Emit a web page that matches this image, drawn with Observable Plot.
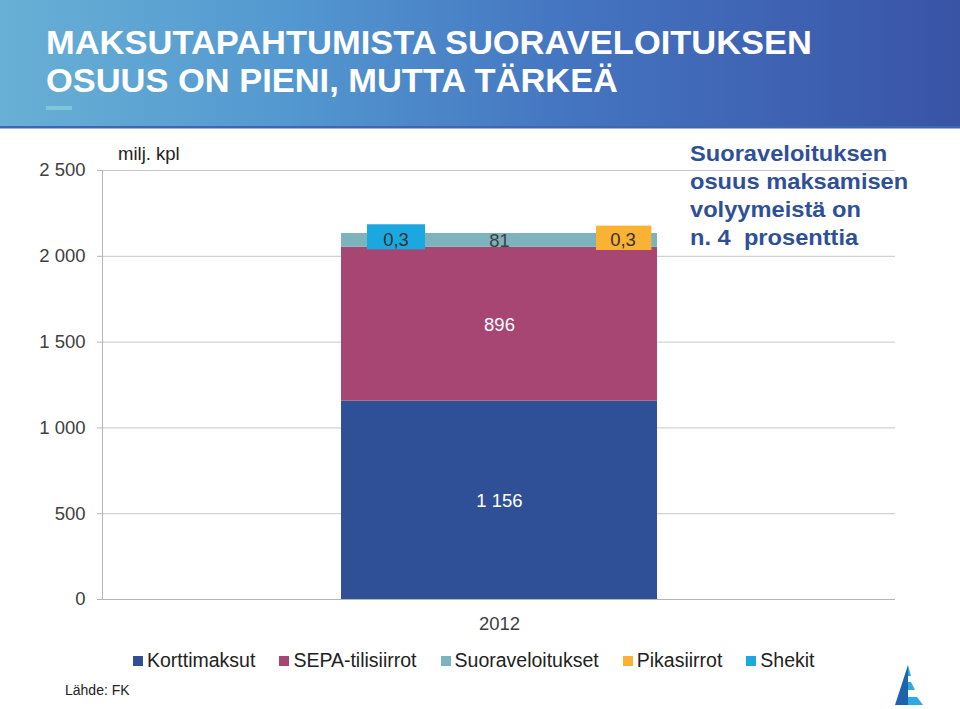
<!DOCTYPE html>
<html>
<head>
<meta charset="utf-8">
<script src="https://cdn.jsdelivr.net/npm/d3@7"></script>
<script src="https://cdn.jsdelivr.net/npm/@observablehq/plot@0.6"></script>
<style>
  body { margin: 0; background: #fff; }
  #page { position: relative; width: 960px; height: 709px; overflow: hidden; background: #fff;
          font-family: "Liberation Sans", Arial, sans-serif; }
  #header { position: absolute; left: 0; top: 0; }
  #chart { position: absolute; left: 0; top: 128px; }
  #unit { position: absolute; left: 118px; top: 143px; font-size: 18.5px; color: #222; white-space: pre; }
  #note { position: absolute; left: 690px; top: 140.2px; font-size: 21.5px; font-weight: bold; line-height: 28px;
          color: #2f4f96; white-space: pre; transform: scaleX(1.1); transform-origin: 0 0; }
  #legend { position: absolute; left: 133px; top: 649px; display: flex; align-items: center; gap: 24px;
            font-size: 19.5px; color: #222; white-space: nowrap; }
  #legend .item { display: flex; align-items: center; }
  #legend .sw { width: 10px; height: 10px; margin-right: 4px; }
  #source { position: absolute; left: 65px; top: 682px; font-size: 14px; color: #222; }
  #logo { position: absolute; left: 890px; top: 662px; }
</style>
</head>
<body>
<div id="page">
  <svg id="header" width="960" height="129">
    <defs>
      <linearGradient id="hg" x1="0" y1="0" x2="1" y2="0">
        <stop offset="0" stop-color="#68b0d5"/>
        <stop offset="0.3" stop-color="#5398d0"/>
        <stop offset="0.6" stop-color="#4474c0"/>
        <stop offset="1" stop-color="#3953a5"/>
      </linearGradient>
    </defs>
    <rect x="0" y="0" width="960" height="126" fill="url(#hg)"/>
    <rect x="0" y="126" width="960" height="2.5" fill="#3f67b0"/>
    <text x="46" y="54.3" fill="#fff" font-family="Liberation Sans, Arial, sans-serif" font-weight="bold"
          font-size="34" textLength="766" lengthAdjust="spacingAndGlyphs">MAKSUTAPAHTUMISTA SUORAVELOITUKSEN</text>
    <text x="46" y="92.3" fill="#fff" font-family="Liberation Sans, Arial, sans-serif" font-weight="bold"
          font-size="34" textLength="572" lengthAdjust="spacingAndGlyphs">OSUUS ON PIENI, MUTTA TÄRKEÄ</text>
    <rect x="46" y="106" width="26" height="4" fill="#7dc7d6"/>
  </svg>
  <div id="chart"></div>
  <div id="unit">milj. kpl</div>
  <div id="note">Suoraveloituksen
osuus maksamisen
volyymeistä on
n. 4  prosenttia</div>
  <div id="legend"></div>
  <div id="source">Lähde: FK</div>
  <svg id="logo" width="40" height="48" viewBox="0 0 40 48">
    <polygon points="18,3 5,43 18,43" fill="#1c62ad"/>
    <polygon points="18,3 18,43 33,43 27,35 18,35 18,28 25,28 21,20 18,20 18,14 21,14" fill="#2ba9e0"/>
  </svg>
</div>
<script>
// ---- data ----
const categories = ["2012"];
const series = ["Korttimaksut", "SEPA-tilisiirrot", "Suoraveloitukset", "Pikasiirrot", "Shekit"];
const values = [1156, 896, 81, 0.3, 0.3];
const valueLabels = ["1 156", "896", "81", "0,3", "0,3"];
const colors = ["#2f4f96", "#a84673", "#7db3bc", "#f9b233", "#1ba8e0"];
const yTicks = [0, 500, 1000, 1500, 2000, 2500];
const yTickLabels = ["0", "500", "1 000", "1 500", "2 000", "2 500"];

// stacked rows
let acc = 0;
const rows = series.map((s, i) => {
  const y1 = acc; acc += values[i];
  return {year: categories[0], series: s, value: values[i], label: valueLabels[i], y1, y2: acc, mid: (y1 + acc) / 2};
});
const main = rows.slice(0, 3);
const pika = rows.filter(d => d.series === "Pikasiirrot");
const shek = rows.filter(d => d.series === "Shekit");

const plot = Plot.plot({
  width: 960,
  height: 520,
  marginTop: 42,
  marginBottom: 49,
  marginLeft: 102,
  marginRight: 65,
  style: {fontFamily: "Liberation Sans, Arial, sans-serif", fontSize: "18.5px", color: "#404040", background: "transparent", overflow: "visible"},
  x: {domain: categories, padding: 0.43, label: null},
  y: {domain: [0, 2500], label: null},
  color: {domain: series, range: colors},
  marks: [
    Plot.ruleY(yTicks.filter(d => d > 0), {stroke: "#c8c8c8", strokeWidth: 1}),
    Plot.barY(main, {x: "year", y1: "y1", y2: "y2", fill: "series"}),
    Plot.barY(shek, {x: "year", y1: "y1", y2: "y2", fill: "series", insetLeft: 26, insetRight: 232, insetTop: -8.6, insetBottom: -16.4}),
    Plot.barY(pika, {x: "year", y1: "y1", y2: "y2", fill: "series", insetLeft: 255, insetRight: 5.6, insetTop: -7.3, insetBottom: -17}),
    Plot.ruleY([0], {stroke: "#b5b5b5"}),
    Plot.frame({anchor: "left", stroke: "#b5b5b5"}),
    Plot.text(main.slice(0, 2), {x: "year", y: "mid", text: "label", fill: "#fff", fontSize: 18.5, dy: 1}),
    Plot.text(main.slice(2), {x: "year", y: "mid", text: "label", fill: "#404040", fontSize: 18.5, dy: 1}),
    Plot.text(shek, {x: "year", y: "y2", text: "label", fill: "#333", fontSize: 18.5, dx: -103.5, dy: 7}),
    Plot.text(pika, {x: "year", y: "y2", text: "label", fill: "#333", fontSize: 18.5, dx: 123.5, dy: 7}),
    Plot.axisY({ticks: yTicks, tickFormat: d => yTickLabels[yTicks.indexOf(d)], tickSize: 5, tickPadding: 12,
                stroke: "#b5b5b5", fill: "#404040", fontSize: 18.5, label: null}),
    Plot.axisX({tickSize: 0, tickPadding: 17, fill: "#404040", fontSize: 18.5, label: null})
  ]
});
document.getElementById("chart").appendChild(plot);

// legend
const leg = document.getElementById("legend");
series.forEach((s, i) => {
  const it = document.createElement("div");
  it.className = "item";
  const sw = document.createElement("div");
  sw.className = "sw";
  sw.style.background = colors[i];
  const t = document.createElement("span");
  t.textContent = s;
  it.appendChild(sw); it.appendChild(t);
  leg.appendChild(it);
});
</script>
</body>
</html>
